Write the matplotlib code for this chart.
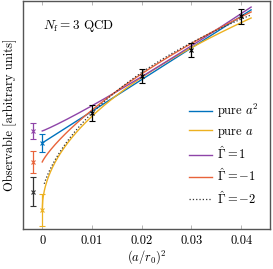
import numpy as np
import matplotlib
matplotlib.use("Agg")
import matplotlib.pyplot as plt

plt.rcParams['font.family'] = 'serif'
plt.rcParams['font.serif'] = ['cmr10']
plt.rcParams['mathtext.fontset'] = 'cm'
plt.rcParams['axes.formatter.use_mathtext'] = True
plt.rcParams['font.size'] = 9

# lattice data
x_data = [0.01, 0.02, 0.03, 0.04]
y_data = [1.16, 1.53, 1.79, 2.13]
e_data = [0.08, 0.07, 0.07, 0.075]

# continuum extrapolations (value, error) per model
labels = ["pure $a^2$", "pure $a$", r"$\hat\Gamma = 1$", r"$\hat\Gamma = -1$", r"$\hat\Gamma = -2$"]
colors = ["#0072BD", "#EDB120", "#8E44A8", "#E8633A", "#333333"]
styles = ["-", "-", "-", "-", ":"]
cont_x = [0.0, 0.0, -0.0019, -0.0019, -0.0019]
cont_y = [0.86, 0.19, 0.98, 0.67, 0.37]
cont_e = [0.09, 0.16, 0.08, 0.11, 0.145]
# fit parameters: model c + b * x^q * (ln(1/x) + k)^p
powers_q = [1.0, 0.5, 1.0, 1.0, 1.0]
powers_p = [0.0, 0.0, -1.0, 1.0, 2.0]
log_shift = [0.0, 0.0, 5.3, 0.0, 0.725]
slopes = [31.7, 9.37, 250.0, 11.27, 2.78]
x_start = [0.0, 0.0, 0.0, 0.0, 0.0004]
x_end = 0.042

def model(k, x):
    xs = np.maximum(x, 1e-12)
    L = np.log(1.0 / xs) + log_shift[k]
    val = xs**powers_q[k] * L**powers_p[k]
    val = np.where(x > 0, val, 0.0)
    return cont_y[k] + slopes[k] * val

fig = plt.figure(figsize=(2.73, 2.69), dpi=100)
ax = fig.add_axes([0.084, 0.149, 0.905, 0.849])

for k in range(5):
    xs = np.linspace(x_start[k], x_end, 400)
    lw = 1.0 if styles[k] == "-" else 0.9
    ax.plot(xs, model(k, xs), styles[k], color=colors[k], lw=lw, label=labels[k])

for k in range(5):
    ax.errorbar([cont_x[k]], [cont_y[k]], yerr=[cont_e[k]], fmt='x', color=colors[k],
                ms=2.5, mew=0.8, elinewidth=0.9, capsize=2.2, capthick=0.9)

ax.errorbar(x_data, y_data, yerr=e_data, fmt='x', color='black', ms=2.5, mew=0.8,
            elinewidth=0.9, capsize=2.5, capthick=0.9)

ax.set_xlim(-0.00388, 0.0458)
ax.set_ylim(0, 2.285)
ax.set_xticks([0, 0.01, 0.02, 0.03, 0.04])
ax.set_xticklabels(["0", "0.01", "0.02", "0.03", "0.04"])
ax.set_yticks([])
ax.tick_params(axis='x', direction='in', top=True, length=3, width=0.6, color='#aaaaaa', pad=4)
for s in ax.spines.values():
    s.set_color('#555555')
    s.set_linewidth(1.0)

ax.set_xlabel("$(a/r_0)^2$", labelpad=1)
ax.set_ylabel("Observable [arbitrary units]", labelpad=4)
ax.text(0.08, 0.89, r"$N_\mathrm{f} = 3$ QCD", transform=ax.transAxes, ha='left', va='center',
        fontsize=9.5)

ax.legend(loc='lower right', bbox_to_anchor=(0.985, 0.065), frameon=False, handlelength=1.8,
          handletextpad=0.4, labelspacing=0.45, borderaxespad=0.2)

fig.savefig("out.png", dpi=100)
